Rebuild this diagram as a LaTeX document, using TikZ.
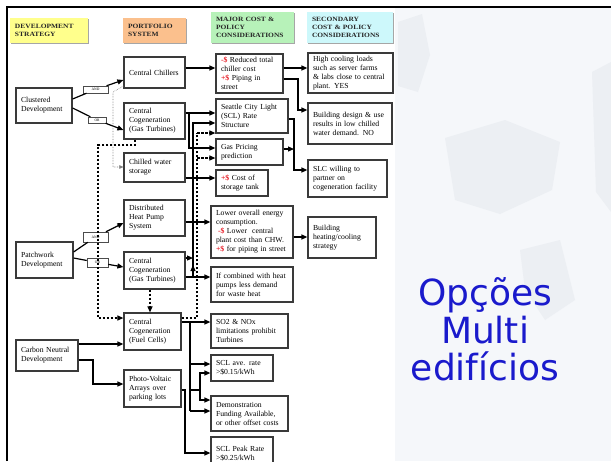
\documentclass[tikz,border=0pt]{standalone}
\usepackage{fontspec}
\setmainfont{Liberation Serif}
\newfontfamily\hdrfont[FakeStretch=1.15]{Liberation Serif}
\newfontfamily\ttlfont{DejaVu Sans}
\usetikzlibrary{arrows.meta,shadows}
\definecolor{hy}{HTML}{FFFF8C}
\definecolor{ho}{HTML}{FBC08D}
\definecolor{hg}{HTML}{B7F2B9}
\definecolor{hc}{HTML}{CDF8FB}
\definecolor{bxc}{HTML}{3A3A3A}
\definecolor{panel}{HTML}{F5F7FA}
\definecolor{mapc}{HTML}{ECEFF3}
\definecolor{ttl}{HTML}{1A1ACC}
\definecolor{rdc}{HTML}{E8202A}
\newcommand\rd[1]{\textcolor{rdc}{\textbf{#1}}}
\newcommand\mkbox[7][box]{%
 \pgfmathsetmacro\bxw{#5-#3}\pgfmathsetmacro\bxh{#6-#4}\pgfmathsetmacro\bxt{#5-#3-10}%
 \pgfmathsetmacro\bxx{(#3+#5)/2}\pgfmathsetmacro\bxy{(#4+#6)/2}%
 \node[#1,minimum width=\bxw pt,minimum height=\bxh pt,text width=\bxt pt] (#2) at (\bxx,\bxy) {#7};}
\tikzset{
 box/.style={draw=bxc, line width=1.2pt, fill=white, inner sep=0pt, align=left, font=\fontsize{7.7}{9}\selectfont},
 hdr/.style={inner sep=0pt, align=left, font=\hdrfont\bfseries\fontsize{6.5}{8}\selectfont, text=black!85,
   drop shadow={shadow xshift=1.2pt,shadow yshift=-1.2pt,fill=black!35,opacity=1}},
 lab/.style={draw=black!70, line width=0.5pt, fill=white, inner sep=0pt, align=center, font=\fontsize{3.6}{4}\selectfont},
 ln/.style={line width=1.2pt},
 arr/.style={line width=1.2pt, -{Triangle[length=6pt,width=5pt]}},
 dsh/.style={line width=1.1pt, dash pattern=on 2.5pt off 1.5pt},
 dsharr/.style={dsh, -{Triangle[length=6pt,width=5pt]}},
 dotarr/.style={line width=0.6pt, gray, densely dotted, -{Triangle[length=4pt,width=3.5pt]}},
 ttlnode/.style={anchor=base, inner sep=0pt, text=ttl, font=\ttlfont\fontsize{36}{37}\selectfont},
}
\begin{document}
\begin{tikzpicture}[x=1pt,y=-1pt]
\useasboundingbox (0,0) rectangle (611,461);
\fill[white] (0,0) rectangle (611,461);
% right panel
\fill[panel] (395,8) rectangle (611,461);
\fill[mapc] (398,22) -- (422,14) -- (430,55) -- (418,92) -- (398,86) -- cycle;
\fill[mapc] (445,138) -- (505,120) -- (560,142) -- (552,190) -- (500,214) -- (455,200) -- cycle;
\fill[mapc] (592,72) -- (611,62) -- (611,212) -- (596,192) -- cycle;
\fill[mapc] (520,250) -- (560,240) -- (575,300) -- (545,320) -- (525,290) -- cycle;
% frame lines
\draw[line width=2pt] (7,461) -- (7,7) -- (611,7);

% headers
\mkbox[hdr,fill=hy]{h1}{10}{18}{88}{43}{DEVELOPMENT\\STRATEGY}
\mkbox[hdr,fill=ho]{h2}{123}{18}{186}{43}{PORTFOLIO\\SYSTEM}
\mkbox[hdr,fill=hg]{h3}{211}{12}{294}{43}{MAJOR COST \&\\POLICY\\CONSIDERATIONS}
\mkbox[hdr,fill=hc]{h4}{307}{12}{393}{43}{SECONDARY\\COST \& POLICY\\CONSIDERATIONS}

% development strategy
\mkbox{cl}{16}{88}{72}{123}{Clustered\\Development}
\mkbox{pw}{16}{242}{73}{278}{Patchwork\\Development}
\mkbox{cn}{16}{340}{78}{371}{Carbon Neutral\\Development}

% portfolio
\mkbox{cc}{124}{57}{185}{88}{Central Chillers}
\mkbox{gt1}{124}{103}{185}{139}{Central\\Cogeneration\\(Gas Turbines)}
\mkbox{cws}{124}{153}{185}{182}{Chilled water\\storage}
\mkbox{dhp}{124}{200}{185}{236}{Distributed\\Heat Pump\\System}
\mkbox{gt2}{124}{252}{185}{289}{Central\\Cogeneration\\(Gas Turbines)}
\mkbox{fc}{124}{313}{181}{350}{Central\\Cogeneration\\(Fuel Cells)}
\mkbox{pv}{124}{370}{181}{407}{Photo-Voltaic\\Arrays over\\parking lots}

% major cost
\mkbox{red}{216}{54}{283}{93}{\rd{-\$} Reduced total\\chiller cost\\\rd{+\$} Piping in\\street}
\mkbox{scl}{216}{99}{288}{133}{Seattle City Light\\(SCL) Rate\\Structure}
\mkbox{gas}{216}{139}{283}{165}{Gas Pricing\\prediction}
\mkbox{stc}{216}{170}{268}{196}{\rd{+\$} Cost of\\storage tank}
\mkbox{low}{211}{206}{293}{258}{Lower overall energy\\consumption.\\\hspace*{2pt}\rd{-\$} Lower~ central\\plant cost than CHW.\\\rd{+\$} for piping in street}
\mkbox{ifc}{211}{267}{293}{302}{If combined with heat\\pumps less demand\\for waste heat}
\mkbox{so2}{211}{314}{288}{348}{SO2 \& NOx\\limitations prohibit\\Turbines}
\mkbox{sav}{211}{355}{273}{381}{SCL ave. rate\\>\$0.15/kWh}
\mkbox{demo}{211}{396}{288}{431}{Demonstration\\Funding Available,\\or other offset costs}
\mkbox{peak}{211}{437}{273}{470}{SCL Peak Rate\\>\$0.25/kWh}

% secondary
\mkbox{hi}{308}{53}{393}{93}{High cooling loads\\such as server farms\\\& labs close to central\\plant. YES}
\mkbox{bd}{308}{103}{392}{144}{Building design \& use\\results in low chilled\\water demand. NO}
\mkbox{slc}{308}{160}{387}{197}{SLC willing to\\partner on\\cogeneration facility}
\mkbox{bh}{308}{217}{376}{258}{Building\\heating/cooling\\strategy}

% AND / OR labels
\mkbox[lab]{and1}{83}{86}{108}{93}{AND}
\mkbox[lab]{or1}{88}{117}{106}{123}{OR}
\mkbox[lab]{and2}{83}{232}{108}{242}{AND}
\mkbox[lab]{or2}{87}{258}{108}{267}{OR}

% development -> portfolio
\draw[ln] (cl.east |- 0,99) -- (and1);
\draw[arr] (and1) -- (cc.west |- 0,80);
\draw[ln] (cl.east |- 0,108) -- (or1);
\draw[arr] (or1) -- (gt1.west |- 0,130);
\draw[ln] (pw.east |- 0,252) -- (and2);
\draw[arr] (and2) -- (dhp.west |- 0,223);
\draw[ln] (pw.east |- 0,258) -- (or2);
\draw[arr] (or2) -- (gt2.west |- 0,267);
\draw[arr] (cn.east |- 0,344) -- (fc.west |- 0,344);
\draw[arr] (cn.east |- 0,360) -- (93,360) -- (93,384) -- (pv.west |- 0,384);

% dashed / dotted within portfolio
\draw[dotarr] (cc.west |- 0,86) -- (113,92) -- (113,167) -- (cws.west |- 0,167);
\draw[dsharr] (gt1.south -| 135,0) -- (135,145) -- (98,145) -- (98,318) -- (fc.west |- 0,318);
\draw[dsharr] (gt2.south -| 150,0) -- (fc.north -| 150,0);

% portfolio -> major cost
\draw[arr] (cc.east |- 0,68) -- (red.west |- 0,68);
\draw[arr] (gt1.east |- 0,113) -- (scl.west |- 0,113);
\draw[arr] (189,113) -- (189,148) -- (gas.west |- 0,148);
\draw[arr] (cws.east |- 0,178) -- (stc.west |- 0,178);
\draw[arr] (dhp.east |- 0,222) -- (low.west |- 0,222);
\draw[arr] (gt2.east |- 0,258) -- (193,258);
\draw[arr] (gt2.east |- 0,277) -- (ifc.west |- 0,277);
\draw[arr] (193,277) -- (193,265);
\draw[arr] (193,267) -- (193,123) -- (scl.west |- 0,123);
\draw[dsh] (fc.east |- 0,318) -- (197,318) -- (197,133);
\draw[dsharr] (197,133) -- (scl.west |- 0,133);
\draw[dsharr] (197,158) -- (gas.west |- 0,158);
\draw[arr] (fc.east |- 0,322) -- (so2.west |- 0,322);
\draw[ln] (190,322) -- (190,411);
\draw[arr] (190,364) -- (sav.west |- 0,364);
\draw[arr] (190,411) -- (demo.west |- 0,411);
\draw[ln] (190,390) -- (200,390);
\draw[arr] (200,390) -- (200,373) -- (sav.west |- 0,373);
\draw[arr] (200,390) -- (200,400) -- (demo.west |- 0,400);
\draw[arr] (pv.east |- 0,390) -- (185,390) -- (185,453) -- (peak.west |- 0,453);

% major cost -> secondary
\draw[arr] (red.east |- 0,68) -- (hi.west |- 0,68);
\draw[arr] (red.east |- 0,79) -- (298,79) -- (298,110) -- (bd.west |- 0,110);
\draw[arr] (scl.east |- 0,119) -- (294,119) -- (294,170) -- (slc.west |- 0,170);
\draw[arr] (gas.east |- 0,149) -- (294,149);
\draw[arr] (low.east |- 0,237) -- (bh.west |- 0,237);

% title
\node[ttlnode] (t1) at (485,305) {Opções};
\node[ttlnode] (t2) at (485,343) {Multi};
\node[ttlnode] (t3) at (485,380) {edifícios};
\end{tikzpicture}
\end{document}
